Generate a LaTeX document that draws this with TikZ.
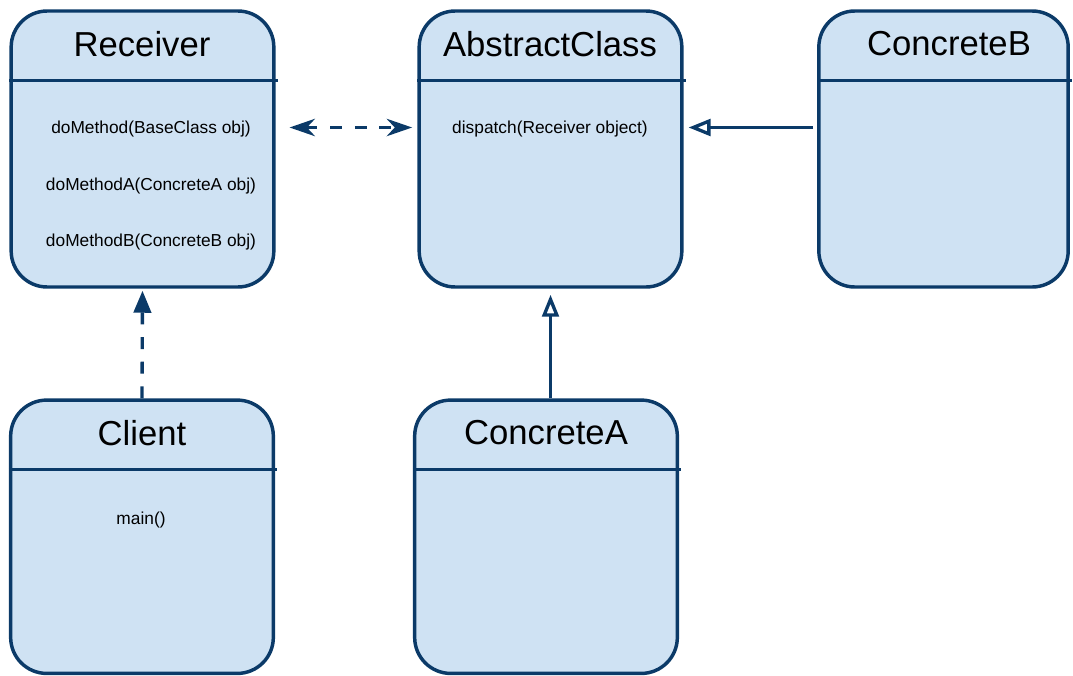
\documentclass[tikz,border=0pt]{standalone}
\usepackage{fontspec}
\setmainfont{Liberation Sans}
\usetikzlibrary{arrows.meta}

\definecolor{umlline}{HTML}{0B3A68}
\definecolor{umlfill}{HTML}{CFE2F3}

\tikzset{
  classbox/.style={draw=umlline, fill=umlfill, line width=2.6pt, rounded corners=27pt,
    minimum width=197pt, inner sep=0pt},
  toprow/.style={classbox, minimum height=207pt},
  botrow/.style={classbox, minimum height=205pt},
  title/.style={font=\fontsize{26}{30}\selectfont},
  method/.style={font=\fontsize{13}{16}\selectfont},
  divider/.style={draw=umlline, line width=2.4pt},
  dep/.style={umlline, line width=2.5pt, dash pattern=on 9pt off 9.5pt},
  gen/.style={umlline, line width=2.5pt, -{Triangle[open, length=16.5pt, width=12.5pt]}}
}

\begin{document}
\begin{tikzpicture}[x=0.75pt, y=-0.75pt, >={Stealth[length=19pt, width=13pt, inset=6pt]}]
\useasboundingbox (0,0) rectangle (1073,675);

% the five classes
\node [toprow, name=recv]  at (142.5,149) {};
\node [toprow, name=abstr] at (550.5,149) {};
\node [toprow, name=concB, minimum width=187pt] at (943.5,149) {};
\node [botrow, name=client] at (142,536.75) {};
\node [botrow, name=concA]  at (546,536.75) {};

\foreach \cls in {recv, abstr, concB, client, concA}
  \draw [divider] ([yshift=-53.25pt]\cls.north west) -- ([yshift=-53.25pt, xshift=1.5pt]\cls.north east);

\node [title] (recvT)   at (142,44)  {Receiver};
\node [title] (abstrT)  at (550,44)  {AbstractClass};
\node [title] (concBT)  at (949,44)  {ConcreteB};
\node [title] (clientT) at (142,433) {Client};
\node [title] (concAT)  at (546,433) {ConcreteA};

% methods
\node [method] (m1)   at (151,129.5) {doMethod(BaseClass obj)};
\node [method] (m2)   at (151,186.5) {doMethodA(ConcreteA obj)};
\node [method] (m3)   at (151,242.5) {doMethodB(ConcreteB obj)};
\node [method] (disp) at (550,129.5) {dispatch(Receiver object)};
\node [method] (main) at (141,520.5) {main()};

% relations
\draw [dep, <->, shorten <=10.5pt, shorten >=4pt] ([yshift=1.5pt]recv.east |- disp) -- ([yshift=1.5pt]abstr.west |- disp);
\draw [gen, shorten <=3pt, shorten >=3.75pt] ([yshift=1.5pt]concB.west |- disp) -- ([yshift=1.5pt]abstr.east |- disp);
\draw [gen, shorten >=4.5pt] (abstr.south |- concA.north) -- (abstr.south);
\draw [dep, -{Triangle[length=16.5pt, width=13pt]}, shorten >=1.5pt] (client.north) -- (recv.south);
\end{tikzpicture}
\end{document}
